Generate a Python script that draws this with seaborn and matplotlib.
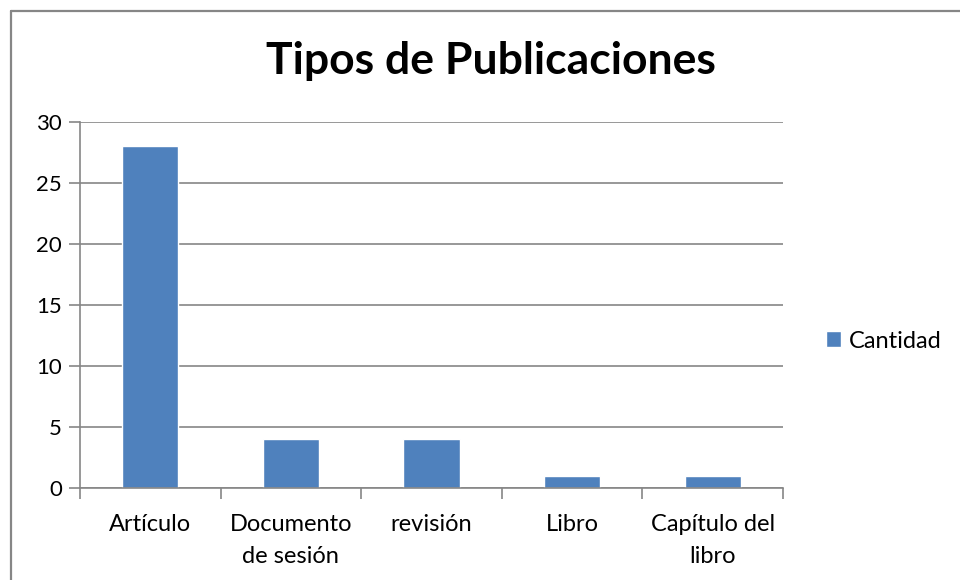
import matplotlib
matplotlib.use("Agg")
import matplotlib.pyplot as plt
import seaborn as sns
import numpy as np
from matplotlib.lines import Line2D

# ==============================
# DATA
# ==============================

categorias = ["Artículo", "Documento\nde sesión", "revisión", "Libro", "Capítulo del\nlibro"]
cantidad = [28, 4, 4, 1, 1]
serie = "Cantidad"
yticks = [0, 5, 10, 15, 20, 25, 30]

# ==============================
# STYLE
# ==============================

sns.set_theme(style="white")
plt.rcParams['font.family'] = ['Lato', 'DejaVu Sans']
plt.rcParams['text.color'] = 'black'

gris = "#868686"
azul = "#4F81BD"

fig = plt.figure(figsize=(9.6, 5.8), dpi=100)
ax = fig.add_axes([80/960, 1 - 488/580, (783 - 80)/960, (488 - 122)/580])

sns.barplot(x=categorias, y=cantidad, color=azul, width=0.4,
            label=serie, ax=ax, saturation=1)

ax.set_xlim(-0.5, len(categorias) - 0.5)
ax.set_ylim(0, 30)
ax.set_yticks(yticks)
ax.yaxis.grid(True, color=gris, linewidth=1.2)
ax.set_axisbelow(True)

for s in ["top", "right"]:
    ax.spines[s].set_visible(False)
for s in ["left", "bottom"]:
    ax.spines[s].set_color(gris)
    ax.spines[s].set_linewidth(1.2)

ax.tick_params(axis="y", which="major", left=True, length=8, width=1.2,
               color=gris, labelsize=16, labelcolor="black", pad=5)
ax.tick_params(axis="x", which="major", length=0, labelsize=17,
               labelcolor="black", pad=19)
ax.set_xticks(np.arange(-0.5, len(categorias)), minor=True)
ax.tick_params(axis="x", which="minor", bottom=True, length=8, width=1.2, color=gris)
for lbl in ax.get_xticklabels():
    lbl.set_linespacing(1.6)

ax.set_xlabel("")
ax.set_ylabel("")

fig.text(491/960, 1 - 61/580, "Tipos de Publicaciones", ha="center", va="center",
         fontsize=32, fontweight="bold", color="black")

ax.legend(loc="center left", bbox_to_anchor=(826/960, 1 - 341/580),
          bbox_transform=fig.transFigure, frameon=False, fontsize=17,
          borderpad=0, borderaxespad=0, labelcolor="black",
          handlelength=0.65, handleheight=0.65, handletextpad=0.3)

# outer chart border (only top and left visible in the crop)
fig.add_artist(Line2D([11/960, 11/960], [0, 1 - 11/580], transform=fig.transFigure,
                      color=gris, linewidth=1.6))
fig.add_artist(Line2D([11/960, 1], [1 - 11/580, 1 - 11/580], transform=fig.transFigure,
                      color=gris, linewidth=1.6))

fig.savefig("out.png", dpi=100)
plt.close(fig)
